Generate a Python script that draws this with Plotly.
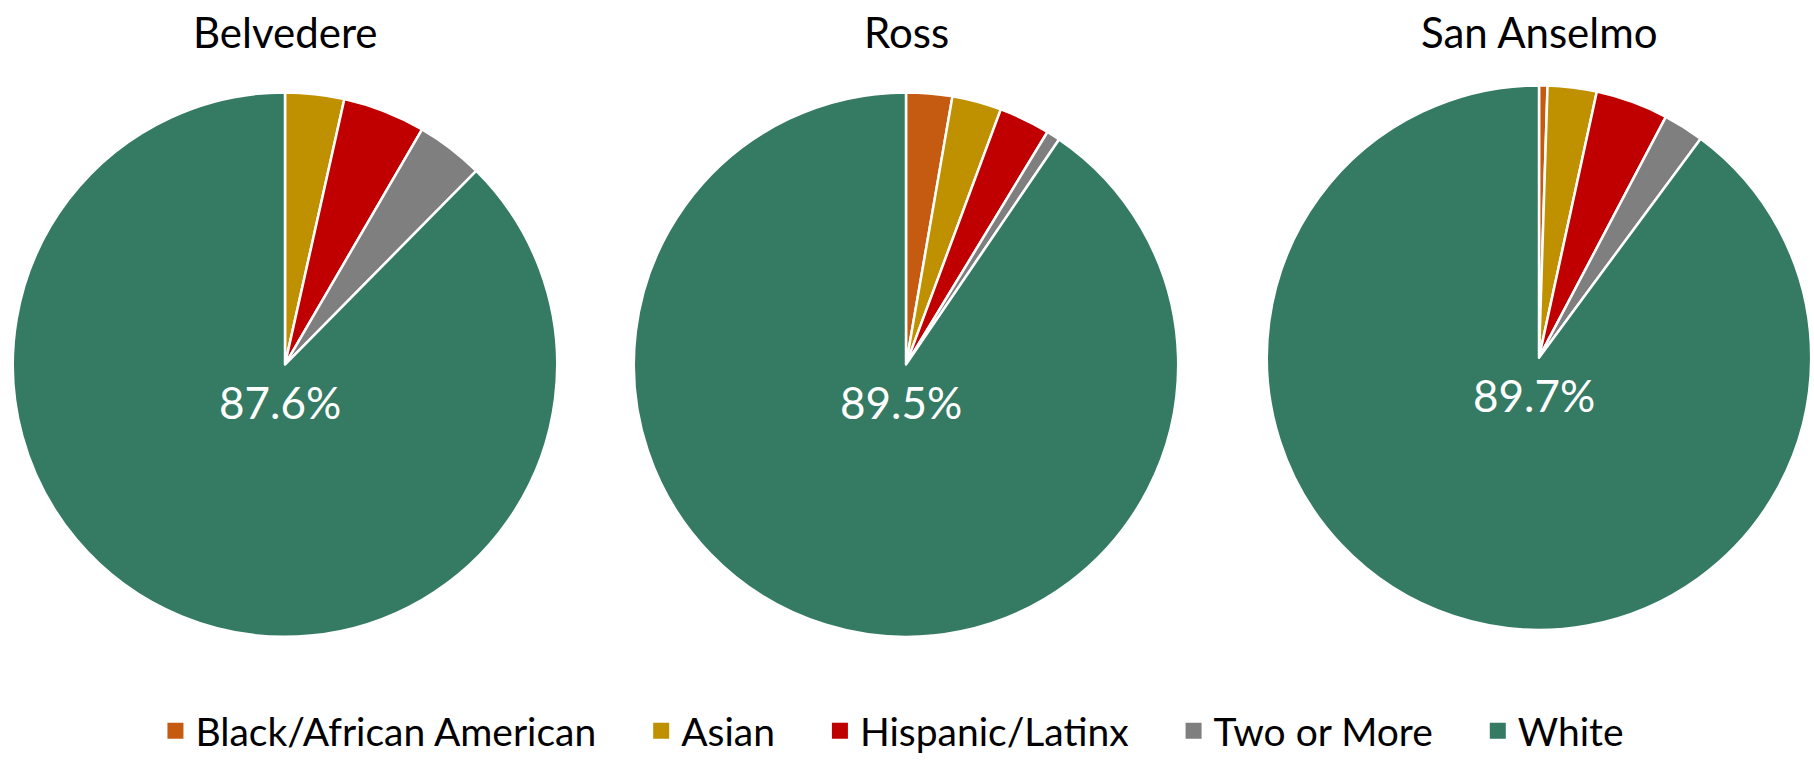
import plotly.graph_objects as go

categories = ["Black/African American", "Asian", "Hispanic/Latinx", "Two or More", "White"]
colors = ["#C55A11", "#BF9000", "#C00000", "#7F7F7F", "#357A62"]

towns = ["Belvedere", "Ross", "San Anselmo"]
belvedere = [0.0, 3.5, 4.9, 4.0, 87.6]
ross = [2.7, 2.9, 3.0, 0.8, 89.5]
san_anselmo = [0.5, 2.9, 4.3, 2.4, 89.7]
white_labels = ["87.6%", "89.5%", "89.7%"]

series = [belvedere, ross, san_anselmo]

W, H = 1814, 763
centers = [(285, 367), (906, 367), (1539, 360)]
R = 274
FONT = "Lato, 'Open Sans', sans-serif"
PAD = "\u00a0" * 4

fig = go.Figure()
for i, (town, vals) in enumerate(zip(towns, series)):
    cx, cy = centers[i]
    x0 = max(0.0, (cx - R) / W)
    x1 = min(1.0, (cx + R) / W)
    fig.add_trace(go.Pie(
        labels=categories,
        values=vals,
        sort=False,
        direction="clockwise",
        rotation=0,
        marker=dict(colors=colors, line=dict(color="white", width=2.5)),
        textinfo="none",
        hoverinfo="label+percent",
        showlegend=False,
        domain=dict(x=[x0, x1],
                    y=[(H - (cy + R)) / H, (H - (cy - R)) / H]),
    ))
    fig.add_annotation(x=cx / W, y=1 - 32 / H, xref="paper", yref="paper",
                       text=town, showarrow=False, xanchor="center", yanchor="middle",
                       font=dict(family=FONT, size=42, color="black"))
    fig.add_annotation(x=(cx - 5) / W, y=1 - (cy + 38) / H, xref="paper", yref="paper",
                       text=white_labels[i], showarrow=False, xanchor="center", yanchor="middle",
                       font=dict(family=FONT, size=44, color="white"))

# legend entries
for cat, col in zip(categories, colors):
    fig.add_trace(go.Scatter(
        x=[None], y=[None], mode="markers", name=cat + PAD,
        marker=dict(symbol="square", size=16, color=col),
        showlegend=True, hoverinfo="skip",
    ))

fig.update_layout(
    width=W, height=H,
    margin=dict(l=0, r=0, t=0, b=0),
    paper_bgcolor="white",
    plot_bgcolor="white",
    xaxis=dict(visible=False),
    yaxis=dict(visible=False),
    legend=dict(orientation="h", x=0.503, xanchor="center", y=1 - 736 / H, yanchor="middle",
                font=dict(family=FONT, size=39, color="black"),
                traceorder="normal", itemsizing="trace", itemwidth=30),
)

fig.write_html("out.html")
